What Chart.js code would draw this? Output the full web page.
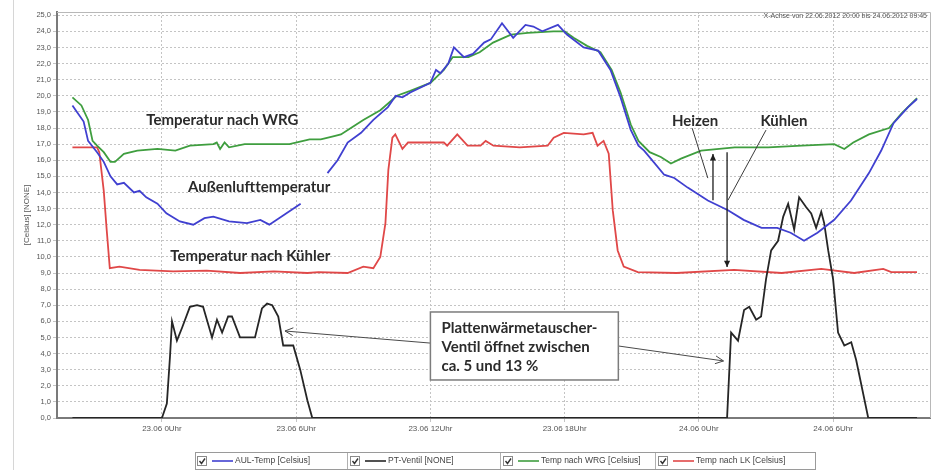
<!DOCTYPE html>
<html>
<head>
<meta charset="utf-8">
<script src="https://cdn.jsdelivr.net/npm/chart.js@4.4.1/dist/chart.umd.min.js"></script>
<style>
  html, body { margin: 0; padding: 0; background: #ffffff; }
  #wrap { width: 936px; height: 470px; position: relative; }
</style>
</head>
<body>
<div id="wrap"><canvas id="c" width="936" height="470"></canvas></div>
<script>
// Zeit in Stunden ab 23.06.2012 00:00 Uhr
const xTickHours = [0, 6, 12, 18, 24, 30];
const xTickLabels = ['23.06 0Uhr', '23.06 6Uhr', '23.06 12Uhr', '23.06 18Uhr', '24.06 0Uhr', '24.06 6Uhr'];
const yTickValues = [0,1,2,3,4,5,6,7,8,9,10,11,12,13,14,15,16,17,18,19,20,21,22,23,24,25];

const seriesNames = ['AUL-Temp [Celsius]', 'PT-Ventil [NONE]', 'Temp nach WRG [Celsius]', 'Temp nach LK [Celsius]'];

// Außenlufttemperatur (Lücke = fehlende Messwerte)
const aulHours = [-4.0,-3.5,-3.3,-2.9,-2.6,-2.3,-2.0,-1.7,-1.25,-1.0,-0.7,-0.2,0.2,0.8,1.4,1.9,2.3,3.0,3.8,4.4,4.8,5.45,6.2,
  6.8,
  7.4,7.85,8.3,8.9,9.45,10.1,10.45,10.75,11.1,12.0,12.25,12.45,12.8,13.05,13.5,13.9,14.4,14.7,15.2,15.7,16.25,16.6,17.0,17.7,18.1,18.85,19.5,20.05,20.5,20.95,21.3,21.55,21.85,22.45,22.9,23.5,24.4,25.3,26.0,26.8,27.5,28.1,28.7,29.3,30.05,30.8,31.6,32.15,32.7,33.35,33.75];
const aulTemp = [19.4,18.4,17.2,16.5,15.9,15.0,14.5,14.6,14.0,14.1,13.7,13.3,12.7,12.2,12.0,12.4,12.5,12.2,12.1,12.3,12.0,12.6,13.3,
  null,
  15.2,16.0,17.1,17.7,18.5,19.3,20.0,19.9,20.2,20.8,21.6,21.4,22.0,23.0,22.4,22.6,23.3,23.5,24.5,23.6,24.4,24.3,24.0,24.4,23.8,23.0,22.8,21.6,19.9,17.9,16.9,16.6,16.1,15.1,14.9,14.3,13.5,12.9,12.3,11.8,11.8,11.5,11.0,11.5,12.3,13.5,15.2,16.6,18.3,19.3,19.8];

// Öffnung Plattenwärmetauscher-Ventil
const ventilHours = [-4.0,0.0,0.22,0.36,0.45,0.67,0.9,1.25,1.57,1.84,2.24,2.46,2.69,2.96,3.13,3.49,4.16,4.47,4.7,4.93,5.2,5.42,5.87,6.18,6.5,6.72,
  25.26,25.44,25.75,26.02,26.25,26.56,26.78,27.0,27.23,27.54,27.77,27.99,28.26,28.48,28.79,29.02,29.24,29.47,29.6,29.78,30.0,30.22,30.5,30.81,31.03,31.57,33.75];
const ventilPercent = [0,0,0.9,3.8,6.0,4.8,5.6,6.9,7.0,6.9,5.0,6.1,5.3,6.3,6.3,5.0,5.0,6.8,7.1,7.0,6.3,4.5,4.5,3.0,1.1,0,
  0,5.3,4.8,6.7,6.9,6.1,6.3,8.6,10.4,11.0,12.5,13.3,11.7,13.7,13.1,12.7,11.8,12.8,12.1,10.4,8.6,5.3,4.5,4.7,3.6,0,0];

// Temperatur nach Wärmerückgewinnung
const wrgHours = [-4.0,-3.6,-3.3,-3.1,-2.9,-2.6,-2.3,-2.1,-1.7,-1.1,-0.2,0.6,1.25,2.3,2.45,2.6,2.8,3.0,3.7,4.8,5.7,6.6,7.1,7.7,8.0,8.55,9.0,9.76,10.5,11.1,12.0,12.6,13.0,13.7,14.2,14.8,15.6,16.35,17.5,18.0,18.4,19.0,19.6,20.1,20.5,20.96,21.3,21.8,22.3,22.75,23.2,24.1,25.6,27.1,28.6,30.05,30.5,30.9,31.6,32.5,33.05,33.75];
const wrgTemp = [19.9,19.4,18.5,17.2,16.9,16.5,15.9,15.9,16.4,16.6,16.7,16.6,16.9,17.0,17.1,16.7,17.1,16.8,17.0,17.0,17.0,17.3,17.3,17.5,17.6,18.1,18.5,19.1,20.0,20.3,20.8,21.6,22.4,22.4,22.7,23.3,23.8,23.9,24.0,24.0,23.6,23.1,22.7,21.6,20.2,18.2,17.2,16.5,16.2,15.8,16.1,16.6,16.8,16.8,16.9,17.0,16.7,17.1,17.6,18.0,18.9,19.85];

// Temperatur nach Luftkühler
const lkHours = [-4.0,-2.9,-2.8,-2.6,-2.47,-2.33,-1.9,-1.0,0.5,2.0,3.5,5.0,6.5,7.0,8.3,9.0,9.45,9.76,9.99,10.12,10.3,10.43,10.75,11.0,12.0,12.6,12.75,13.2,13.66,14.24,14.47,14.82,16.0,17.24,17.51,17.96,18.85,19.25,19.47,19.74,19.97,20.15,20.37,20.64,21.27,23.0,25.57,27.7,29.47,30.94,32.24,32.6,33.75];
const lkTemp = [16.8,16.8,16.5,14.1,11.7,9.3,9.4,9.2,9.1,9.15,9.0,9.1,9.0,9.05,9.0,9.4,9.3,10.0,12.1,15.4,17.4,17.6,16.7,17.1,17.1,17.1,16.9,17.6,16.9,16.9,17.2,16.9,16.8,16.9,17.4,17.7,17.6,17.7,16.9,17.2,16.4,12.9,10.4,9.4,9.05,9.0,9.2,9.0,9.25,9.0,9.25,9.05,9.05];

const seriesColors = ['#4040d0', '#262626', '#3f9e3f', '#e04848'];

function toPoints(hours, values) {
  return hours.map((h, i) => ({ x: h, y: values[i] }));
}

const AXIS_GRAY = '#7a7a7a';
const GRID_GRAY = '#c4c4c4';
const TEXT_GRAY = '#555555';
const NOTE_FONT = 'bold 15px Lato, "Open Sans", sans-serif';
const NOTE_COLOR = '#2b2b2b';

function arrowHead(ctx, fromX, fromY, toX, toY, size, filled) {
  const a = Math.atan2(toY - fromY, toX - fromX);
  const w = 0.45;
  ctx.beginPath();
  ctx.moveTo(toX - size * Math.cos(a - w), toY - size * Math.sin(a - w));
  ctx.lineTo(toX, toY);
  ctx.lineTo(toX - size * Math.cos(a + w), toY - size * Math.sin(a + w));
  if (filled) { ctx.closePath(); ctx.fill(); } else { ctx.stroke(); }
}

// Rahmen, Beschriftungen, Pfeile und Legende
const decorations = {
  id: 'decorations',
  beforeDatasetsDraw(chart) {
    const { ctx, chartArea: a } = chart;
    ctx.save();
    ctx.strokeStyle = '#b8b8b8';
    ctx.lineWidth = 1;
    ctx.beginPath();
    ctx.moveTo(a.left, a.top + 0.5);
    ctx.lineTo(a.right + 0.5, a.top + 0.5);
    ctx.lineTo(a.right + 0.5, a.bottom);
    ctx.stroke();
    ctx.strokeStyle = '#d6d6d6';
    ctx.beginPath();
    ctx.moveTo(13.5, 0);
    ctx.lineTo(13.5, 470);
    ctx.stroke();
    ctx.restore();
  },
  afterDraw(chart) {
    const { ctx } = chart;
    const xs = chart.scales.x, ys = chart.scales.y;
    const px = h => xs.getPixelForValue(h);
    const py = v => ys.getPixelForValue(v);

    ctx.save();
    // Zeitraum oben rechts
    ctx.font = '7px "Liberation Sans", Arial, sans-serif';
    ctx.fillStyle = TEXT_GRAY;
    ctx.textAlign = 'right';
    ctx.textBaseline = 'middle';
    ctx.fillText('X-Achse von 22.06.2012 20:00 bis 24.06.2012 09:45', 927, 16);

    // Textnotizen im Diagramm
    ctx.font = NOTE_FONT;
    ctx.fillStyle = NOTE_COLOR;
    ctx.textAlign = 'center';
    ctx.textBaseline = 'middle';
    ctx.fillText('Temperatur nach WRG', px(2.7), py(18.5));
    ctx.fillText('Außenlufttemperatur', px(4.35), py(14.33));
    ctx.fillText('Temperatur nach Kühler', px(3.95), py(10.05));
    ctx.fillText('Heizen', px(23.83), py(18.42));
    ctx.fillText('Kühlen', px(27.8), py(18.42));

    // Zeiger von Heizen / Kühlen
    ctx.strokeStyle = '#3a3a3a';
    ctx.lineWidth = 1;
    ctx.beginPath();
    ctx.moveTo(px(23.7), py(17.99));
    ctx.lineTo(px(24.4), py(14.89));
    ctx.moveTo(px(27.0), py(17.87));
    ctx.lineTo(px(25.3), py(13.52));
    ctx.stroke();

    // Heizen: von Außenluft bis nach WRG, Kühlen: von nach WRG bis nach Kühler
    ctx.strokeStyle = '#1e1e1e';
    ctx.fillStyle = '#1e1e1e';
    ctx.lineWidth = 1.3;
    const upX = px(24.63), dnX = px(25.26);
    ctx.beginPath();
    ctx.moveTo(upX, py(13.52));
    ctx.lineTo(upX, py(16.38));
    ctx.moveTo(dnX, py(16.5));
    ctx.lineTo(dnX, py(9.37));
    ctx.stroke();
    arrowHead(ctx, upX, py(13.52), upX, py(16.38), 7, true);
    arrowHead(ctx, dnX, py(16.5), dnX, py(9.37), 7, true);

    // Zeiger vom Kasten auf die Ventilkurve
    ctx.strokeStyle = '#4a4a4a';
    ctx.lineWidth = 1;
    ctx.beginPath();
    ctx.moveTo(px(12.0), py(4.65));
    ctx.lineTo(px(5.5), py(5.4));
    ctx.moveTo(px(20.4), py(4.47));
    ctx.lineTo(px(25.1), py(3.54));
    ctx.stroke();
    arrowHead(ctx, px(12.0), py(4.65), px(5.5), py(5.4), 9, false);
    arrowHead(ctx, px(20.4), py(4.47), px(25.1), py(3.54), 9, false);

    // Kasten
    const bx = px(12.0), by = py(6.58), bw = px(20.4) - bx, bh = py(2.36) - by;
    ctx.fillStyle = '#ffffff';
    ctx.fillRect(bx, by, bw, bh);
    ctx.strokeStyle = '#7c7c7c';
    ctx.lineWidth = 1.5;
    ctx.strokeRect(bx, by, bw, bh);
    ctx.font = NOTE_FONT;
    ctx.fillStyle = NOTE_COLOR;
    ctx.textAlign = 'left';
    ctx.fillText('Plattenwärmetauscher-', bx + 11, by + 16);
    ctx.fillText('Ventil öffnet zwischen', bx + 11, by + 35);
    ctx.fillText('ca. 5 und 13 %', bx + 11, by + 54);

    // Legende
    const lx = 195, ly = 452, lw = 620, lh = 17;
    ctx.fillStyle = '#ffffff';
    ctx.fillRect(lx, ly, lw, lh);
    ctx.strokeStyle = '#9a9a9a';
    ctx.lineWidth = 1;
    ctx.strokeRect(lx + 0.5, ly + 0.5, lw, lh);
    const itemX = [197, 350, 503, 658];
    const cy = ly + lh / 2 + 0.5;
    ctx.font = '8.5px "Liberation Sans", Arial, sans-serif';
    ctx.textBaseline = 'middle';
    ctx.textAlign = 'left';
    seriesNames.forEach((name, i) => {
      const x0 = itemX[i];
      // Auswahlkästchen
      ctx.strokeStyle = '#8a8a8a';
      ctx.lineWidth = 1;
      ctx.strokeRect(x0 + 0.5, cy - 4.5, 9, 9);
      ctx.strokeStyle = '#333333';
      ctx.lineWidth = 1.4;
      ctx.beginPath();
      ctx.moveTo(x0 + 2.5, cy);
      ctx.lineTo(x0 + 4.5, cy + 2.5);
      ctx.lineTo(x0 + 8, cy - 2.5);
      ctx.stroke();
      // Linienmuster
      ctx.strokeStyle = seriesColors[i];
      ctx.lineWidth = 1.6;
      ctx.beginPath();
      ctx.moveTo(x0 + 15, cy);
      ctx.lineTo(x0 + 36, cy);
      ctx.stroke();
      ctx.fillStyle = '#444444';
      ctx.fillText(name, x0 + 38, cy);
      // Trenner
      if (i > 0) {
        ctx.strokeStyle = '#b0b0b0';
        ctx.lineWidth = 1;
        ctx.beginPath();
        ctx.moveTo(x0 - 2.5, ly + 1);
        ctx.lineTo(x0 - 2.5, ly + lh);
        ctx.stroke();
      }
    });
    ctx.restore();
  }
};

const datasets = [
  { label: seriesNames[0], data: toPoints(aulHours, aulTemp), borderColor: seriesColors[0] },
  { label: seriesNames[1], data: toPoints(ventilHours, ventilPercent), borderColor: seriesColors[1] },
  { label: seriesNames[2], data: toPoints(wrgHours, wrgTemp), borderColor: seriesColors[2] },
  { label: seriesNames[3], data: toPoints(lkHours, lkTemp), borderColor: seriesColors[3] }
].map(d => Object.assign(d, { borderWidth: 1.8, pointRadius: 0, tension: 0, spanGaps: false, fill: false }));

new Chart(document.getElementById('c'), {
  type: 'line',
  data: { datasets },
  plugins: [decorations],
  options: {
    responsive: false,
    animation: false,
    devicePixelRatio: 1,
    layout: { padding: { top: 12, right: 6, left: 0, bottom: 0 } },
    plugins: { legend: { display: false }, tooltip: { enabled: false } },
    scales: {
      x: {
        type: 'linear',
        min: -4.69,
        max: 34.33,
        afterFit: s => { s.height = 52; },
        afterBuildTicks: s => { s.ticks = xTickHours.map(v => ({ value: v })); },
        ticks: {
          autoSkip: false,
          maxRotation: 0,
          padding: 2,
          color: TEXT_GRAY,
          font: { family: '"Liberation Sans", Arial, sans-serif', size: 8 },
          callback: (v) => xTickLabels[xTickHours.indexOf(v)]
        },
        grid: { color: GRID_GRAY, lineWidth: 1, tickLength: 4, drawTicks: true },
        border: { display: true, color: AXIS_GRAY, width: 2, dash: [2, 2] }
      },
      y: {
        min: 0,
        max: 25.2,
        afterFit: s => { s.width = 57; },
        afterBuildTicks: s => { s.ticks = yTickValues.map(v => ({ value: v })); },
        ticks: {
          autoSkip: false,
          padding: 2,
          color: TEXT_GRAY,
          font: { family: '"Liberation Sans", Arial, sans-serif', size: 7.5 },
          callback: v => v.toFixed(1).replace('.', ',')
        },
        grid: { color: GRID_GRAY, lineWidth: 1, tickLength: 4 },
        border: { display: true, color: AXIS_GRAY, width: 2, dash: [2, 2] },
        title: {
          display: true,
          text: '[Celsius] [NONE]',
          color: TEXT_GRAY,
          font: { family: '"Liberation Sans", Arial, sans-serif', size: 8 },
          padding: { top: 22, bottom: 0 }
        }
      }
    }
  }
});
</script>
</body>
</html>
